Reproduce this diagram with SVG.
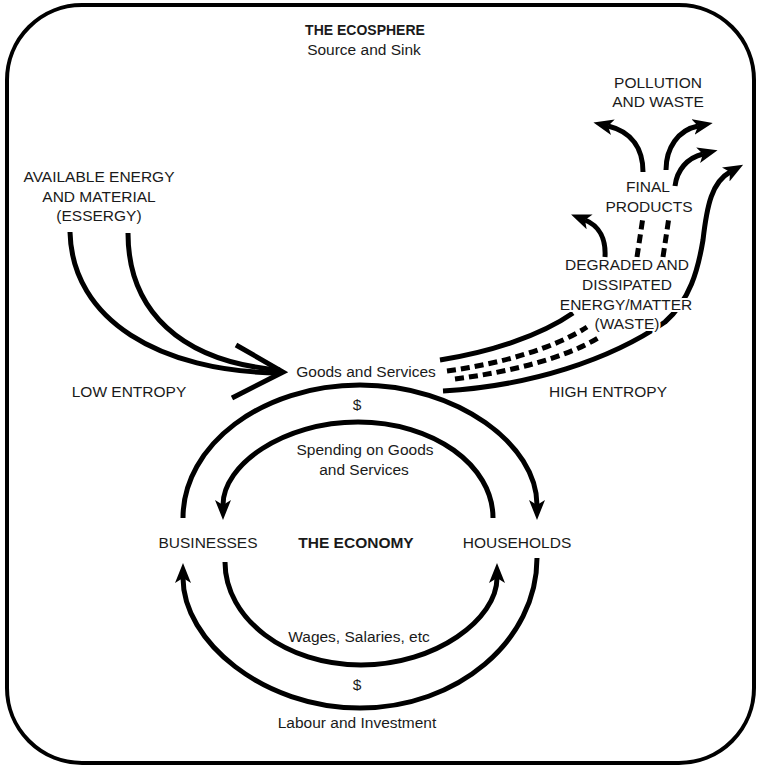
<svg xmlns="http://www.w3.org/2000/svg" width="760" height="768" viewBox="0 0 760 768">
<style>
text{font-family:"Liberation Sans",Arial,sans-serif;font-size:15.5px;fill:#1a1a1a;text-anchor:middle}
.b{font-weight:bold}
.halo{stroke:#fff;stroke-width:4px;paint-order:stroke;stroke-linejoin:round}
.ln{fill:none;stroke:#000;stroke-width:5;stroke-linecap:butt}
.ds{fill:none;stroke:#000;stroke-width:5;stroke-dasharray:9 5}
.ar{marker-end:url(#ah)}
</style>
<defs>
<marker id="ah" markerUnits="userSpaceOnUse" markerWidth="22" markerHeight="18" refX="5" refY="8" orient="auto">
<path d="M0,0 L20,8 L0,16 L5,8 z" fill="#000"/>
</marker>
</defs>
<rect id="ecosphere" x="7" y="5" width="747" height="758" rx="75" ry="75" fill="#fff" stroke="#000" stroke-width="4"/>
<g id="connectors">
<path class="ln" d="M70,232 C72,320 160,372 280,373"/>
<path class="ln" d="M128,233 C128,310 180,362 280,370"/>
<path class="ln" d="M236,345 L283,372 L232,398" stroke-linejoin="miter"/>
<path class="ln" d="M440,360 C490,352 540,336 573,313"/>
<path class="ln ar" d="M605,257 C606,240 600,226 585,220"/>
<path class="ds" d="M447,371 C500,364 555,348 587,327"/>
<path class="ds" d="M455,379 C510,372 565,358 598,338"/>
<path class="ds" d="M637,257 L643,217"/>
<path class="ds" d="M663,257 L669,217"/>
<path class="ln ar" d="M643,172 C643,150 633,132 608,126"/>
<path class="ln ar" d="M666,170 C666,148 678,130 698,126"/>
<path class="ln ar" d="M675,186 C677,170 687,158 703,154"/>
<path class="ln ar" d="M443,391 C530,386 610,360 665,322 C690,300 698,270 703,240 C707,205 712,182 730,172"/>
<path class="ln ar" d="M183,518 C183,445 262,385 360,385 C458,385 537,445 537,505"/>
<path class="ln ar" d="M493,518 C493,465 433,422 358,422 C283,422 223,465 223,505"/>
<path class="ln ar" d="M225,562 C225,619 286,665 361,665 C436,665 497,619 497,578"/>
<path class="ln ar" d="M537,558 C537,641 457,708 360,708 C263,708 183,641 183,578"/>
</g>
<g id="title"><text class="b" x="365" y="35" style="font-size:14px">THE ECOSPHERE</text><text x="364" y="55">Source and Sink</text></g>
<g id="pollution"><text x="658" y="88">POLLUTION</text><text x="658" y="107">AND WASTE</text></g>
<g id="available"><text x="99" y="182">AVAILABLE ENERGY</text><text x="99" y="202">AND MATERIAL</text><text x="99" y="221">(ESSERGY)</text></g>
<g id="final"><text x="648" y="192">FINAL</text><text x="649" y="212">PRODUCTS</text></g>
<g id="degraded"><text class="halo" x="627" y="270">DEGRADED AND</text><text class="halo" x="627" y="290">DISSIPATED</text><text class="halo" x="626" y="310">ENERGY/MATTER</text><text class="halo" x="627" y="329">(WASTE)</text></g>
<g id="goods"><text x="366" y="377">Goods and Services</text></g>
<g id="low"><text x="129" y="397">LOW ENTROPY</text></g>
<g id="high"><text x="608" y="397">HIGH ENTROPY</text></g>
<g id="spending"><text x="357" y="410">$</text><text x="365" y="455">Spending on Goods</text><text x="364" y="475">and Services</text></g>
<g id="businesses"><text x="208" y="548">BUSINESSES</text></g>
<g id="economy"><text class="b" x="356" y="548">THE ECONOMY</text></g>
<g id="households"><text x="517" y="548">HOUSEHOLDS</text></g>
<g id="wages"><text x="359" y="642">Wages, Salaries, etc</text></g>
<g id="labour"><text x="357" y="690">$</text><text x="357" y="728">Labour and Investment</text></g>
</svg>
